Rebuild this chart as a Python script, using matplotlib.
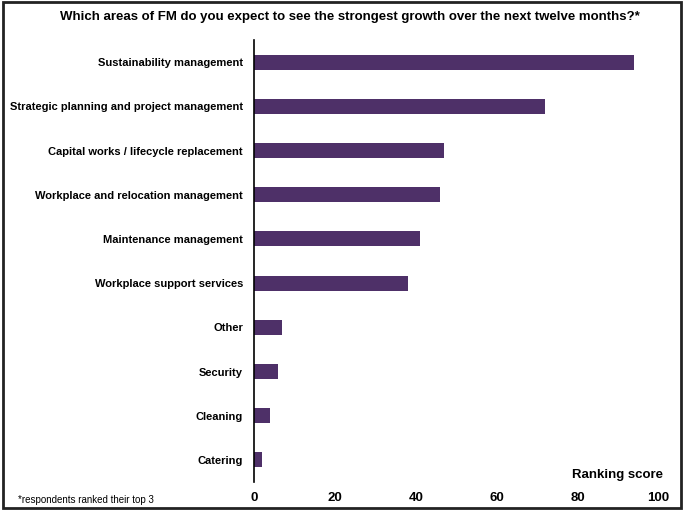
import matplotlib
matplotlib.use("Agg")
import matplotlib.pyplot as plt
from matplotlib.patches import Rectangle

categories = [
    "Sustainability management",
    "Strategic planning and project management",
    "Capital works / lifecycle replacement",
    "Workplace and relocation management",
    "Maintenance management",
    "Workplace support services",
    "Other",
    "Security",
    "Cleaning",
    "Catering",
]
scores = [94, 72, 47, 46, 41, 38, 7, 6, 4, 2]
xticks = [0, 20, 40, 60, 80, 100]

plt.rcParams['font.family'] = ['Liberation Sans', 'DejaVu Sans']

fig = plt.figure(figsize=(6.85, 5.11), dpi=100)
ax = fig.add_axes([0.371, 0.0567, 0.590, 0.865])

pos = list(range(len(categories)))
ax.barh(pos, scores, height=0.34, color='#4E3068')
ax.set_ylim(len(categories) - 0.5, -0.5)
ax.set_xlim(0, 100)

ax.set_yticks(pos)
ax.set_yticklabels(categories, fontsize=8, fontweight='bold')
ax.set_xticks(xticks)
ax.set_xticklabels([str(t) for t in xticks], fontsize=9.5, fontweight='bold')
ax.tick_params(axis='y', length=0, pad=8)
ax.tick_params(axis='x', length=0, pad=7)

for s in ['top', 'right', 'bottom']:
    ax.spines[s].set_visible(False)
ax.spines['left'].set_linewidth(1.2)

ax.text(0.9, 0.016, "Ranking score", transform=ax.transAxes,
        ha='center', va='center', fontsize=9.5, fontweight='bold')

fig.text(0.511, 0.966, "Which areas of FM do you expect to see the strongest growth over the next twelve months?*",
         ha='center', va='center', fontsize=9.5, fontweight='bold')
fig.text(0.026, 0.021, "*respondents ranked their top 3", ha='left', va='center', fontsize=7)

# outer frame
fig.patches.append(Rectangle((0.004, 0.006), 0.99, 0.99, transform=fig.transFigure,
                             fill=False, edgecolor='#222222', linewidth=2))

fig.savefig("out.png", dpi=100)
